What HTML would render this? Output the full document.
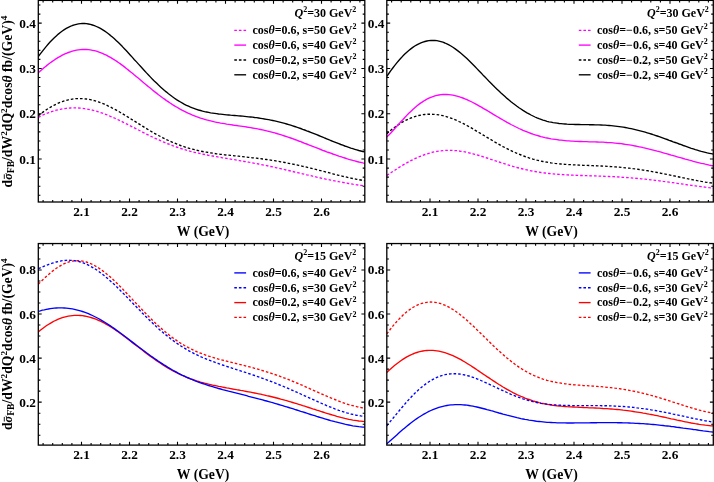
<!DOCTYPE html>
<html><head><meta charset="utf-8"><title>plot</title>
<style>
html,body{margin:0;padding:0;background:#fff;}
body{width:714px;height:482px;overflow:hidden;}
svg{display:block;will-change:transform;}
text{font-family:"Liberation Serif",serif;font-weight:bold;fill:#000;}
.i{font-style:italic;}
</style></head><body>
<svg width="714" height="482" viewBox="0 0 714 482">
<rect width="714" height="482" fill="#fff"/>

<g id="panel1">
<clipPath id="cp1"><rect x="38.3" y="0.4" width="326.5" height="201.6"/></clipPath>
<g clip-path="url(#cp1)" fill="none" stroke-width="1.35" stroke-linejoin="round">
<path d="M38.3,56.5 L40.3,53.9 L42.3,51.3 L44.3,48.8 L46.3,46.4 L48.3,44.0 L50.3,41.8 L52.3,39.7 L54.3,37.7 L56.3,35.9 L58.3,34.1 L60.3,32.5 L62.3,31.0 L64.3,29.6 L66.3,28.4 L68.3,27.3 L70.3,26.4 L72.4,25.5 L74.4,24.9 L76.4,24.3 L78.4,23.9 L80.4,23.6 L82.4,23.5 L84.4,23.5 L86.4,23.7 L88.4,24.0 L90.4,24.4 L92.4,25.0 L94.4,25.6 L96.4,26.5 L98.4,27.4 L100.4,28.4 L102.4,29.6 L104.4,30.9 L106.4,32.3 L108.4,33.8 L110.4,35.4 L112.4,37.1 L114.4,38.8 L116.4,40.7 L118.4,42.6 L120.4,44.6 L122.4,46.6 L124.4,48.7 L126.4,50.8 L128.4,53.0 L130.4,55.2 L132.4,57.4 L134.4,59.7 L136.5,61.9 L138.5,64.1 L140.5,66.3 L142.5,68.5 L144.5,70.7 L146.5,72.9 L148.5,75.0 L150.5,77.1 L152.5,79.2 L154.5,81.2 L156.5,83.1 L158.5,85.1 L160.5,86.9 L162.5,88.7 L164.5,90.5 L166.5,92.1 L168.5,93.8 L170.5,95.3 L172.5,96.8 L174.5,98.2 L176.5,99.6 L178.5,100.8 L180.5,102.0 L182.5,103.2 L184.5,104.3 L186.5,105.3 L188.5,106.2 L190.5,107.1 L192.5,107.9 L194.5,108.6 L196.5,109.3 L198.5,110.0 L200.5,110.5 L202.6,111.1 L204.6,111.6 L206.6,112.0 L208.6,112.4 L210.6,112.8 L212.6,113.1 L214.6,113.4 L216.6,113.7 L218.6,114.0 L220.6,114.2 L222.6,114.4 L224.6,114.6 L226.6,114.8 L228.6,115.0 L230.6,115.2 L232.6,115.3 L234.6,115.5 L236.6,115.7 L238.6,115.9 L240.6,116.0 L242.6,116.2 L244.6,116.4 L246.6,116.6 L248.6,116.8 L250.6,117.0 L252.6,117.2 L254.6,117.5 L256.6,117.7 L258.6,118.0 L260.6,118.3 L262.6,118.6 L264.6,119.0 L266.6,119.3 L268.7,119.7 L270.7,120.1 L272.7,120.5 L274.7,120.9 L276.7,121.4 L278.7,121.9 L280.7,122.4 L282.7,122.9 L284.7,123.4 L286.7,124.0 L288.7,124.6 L290.7,125.2 L292.7,125.8 L294.7,126.5 L296.7,127.2 L298.7,127.8 L300.7,128.5 L302.7,129.3 L304.7,130.0 L306.7,130.8 L308.7,131.5 L310.7,132.3 L312.7,133.1 L314.7,133.9 L316.7,134.7 L318.7,135.5 L320.7,136.3 L322.7,137.1 L324.7,138.0 L326.7,138.8 L328.7,139.6 L330.7,140.5 L332.8,141.3 L334.8,142.1 L336.8,142.9 L338.8,143.7 L340.8,144.5 L342.8,145.2 L344.8,146.0 L346.8,146.7 L348.8,147.4 L350.8,148.1 L352.8,148.7 L354.8,149.3 L356.8,149.9 L358.8,150.5 L360.8,151.0 L362.8,151.5 L364.8,151.9" stroke="#000000"/>
<path d="M38.3,115.7 L40.3,114.1 L42.3,112.6 L44.3,111.2 L46.3,109.8 L48.3,108.5 L50.3,107.3 L52.3,106.2 L54.3,105.1 L56.3,104.1 L58.3,103.2 L60.3,102.3 L62.3,101.6 L64.3,100.9 L66.3,100.3 L68.3,99.8 L70.3,99.4 L72.4,99.1 L74.4,98.8 L76.4,98.6 L78.4,98.6 L80.4,98.6 L82.4,98.6 L84.4,98.8 L86.4,99.0 L88.4,99.3 L90.4,99.7 L92.4,100.2 L94.4,100.7 L96.4,101.3 L98.4,101.9 L100.4,102.7 L102.4,103.4 L104.4,104.2 L106.4,105.1 L108.4,106.1 L110.4,107.0 L112.4,108.1 L114.4,109.1 L116.4,110.2 L118.4,111.3 L120.4,112.5 L122.4,113.7 L124.4,114.9 L126.4,116.1 L128.4,117.3 L130.4,118.6 L132.4,119.8 L134.4,121.1 L136.5,122.4 L138.5,123.6 L140.5,124.9 L142.5,126.1 L144.5,127.4 L146.5,128.6 L148.5,129.8 L150.5,131.0 L152.5,132.1 L154.5,133.3 L156.5,134.4 L158.5,135.5 L160.5,136.5 L162.5,137.6 L164.5,138.6 L166.5,139.6 L168.5,140.5 L170.5,141.4 L172.5,142.3 L174.5,143.1 L176.5,143.9 L178.5,144.7 L180.5,145.5 L182.5,146.2 L184.5,146.8 L186.5,147.5 L188.5,148.1 L190.5,148.7 L192.5,149.2 L194.5,149.7 L196.5,150.2 L198.5,150.7 L200.5,151.1 L202.6,151.5 L204.6,151.9 L206.6,152.2 L208.6,152.6 L210.6,152.9 L212.6,153.2 L214.6,153.5 L216.6,153.8 L218.6,154.0 L220.6,154.3 L222.6,154.5 L224.6,154.8 L226.6,155.0 L228.6,155.2 L230.6,155.4 L232.6,155.6 L234.6,155.8 L236.6,156.0 L238.6,156.2 L240.6,156.5 L242.6,156.7 L244.6,156.9 L246.6,157.1 L248.6,157.3 L250.6,157.5 L252.6,157.8 L254.6,158.0 L256.6,158.2 L258.6,158.5 L260.6,158.7 L262.6,159.0 L264.6,159.3 L266.6,159.5 L268.7,159.8 L270.7,160.1 L272.7,160.4 L274.7,160.7 L276.7,161.1 L278.7,161.4 L280.7,161.8 L282.7,162.1 L284.7,162.5 L286.7,162.9 L288.7,163.3 L290.7,163.7 L292.7,164.1 L294.7,164.5 L296.7,164.9 L298.7,165.4 L300.7,165.8 L302.7,166.3 L304.7,166.7 L306.7,167.2 L308.7,167.7 L310.7,168.2 L312.7,168.7 L314.7,169.2 L316.7,169.7 L318.7,170.2 L320.7,170.7 L322.7,171.2 L324.7,171.7 L326.7,172.2 L328.7,172.7 L330.7,173.3 L332.8,173.8 L334.8,174.3 L336.8,174.8 L338.8,175.3 L340.8,175.8 L342.8,176.3 L344.8,176.7 L346.8,177.2 L348.8,177.7 L350.8,178.1 L352.8,178.5 L354.8,178.9 L356.8,179.3 L358.8,179.7 L360.8,180.0 L362.8,180.4 L364.8,180.7" stroke="#000000" stroke-dasharray="2.6 2.0"/>
<path d="M38.3,72.8 L40.3,71.0 L42.3,69.3 L44.3,67.6 L46.3,65.9 L48.3,64.3 L50.3,62.8 L52.3,61.4 L54.3,60.0 L56.3,58.6 L58.3,57.4 L60.3,56.3 L62.3,55.2 L64.3,54.2 L66.3,53.3 L68.3,52.5 L70.3,51.8 L72.4,51.2 L74.4,50.6 L76.4,50.2 L78.4,49.9 L80.4,49.6 L82.4,49.5 L84.4,49.5 L86.4,49.5 L88.4,49.7 L90.4,49.9 L92.4,50.3 L94.4,50.7 L96.4,51.2 L98.4,51.9 L100.4,52.6 L102.4,53.4 L104.4,54.3 L106.4,55.2 L108.4,56.3 L110.4,57.4 L112.4,58.6 L114.4,59.8 L116.4,61.1 L118.4,62.5 L120.4,63.9 L122.4,65.4 L124.4,66.9 L126.4,68.5 L128.4,70.1 L130.4,71.7 L132.4,73.3 L134.4,75.0 L136.5,76.7 L138.5,78.3 L140.5,80.0 L142.5,81.7 L144.5,83.4 L146.5,85.1 L148.5,86.7 L150.5,88.3 L152.5,90.0 L154.5,91.6 L156.5,93.1 L158.5,94.7 L160.5,96.2 L162.5,97.7 L164.5,99.1 L166.5,100.6 L168.5,101.9 L170.5,103.3 L172.5,104.6 L174.5,105.8 L176.5,107.0 L178.5,108.2 L180.5,109.3 L182.5,110.4 L184.5,111.4 L186.5,112.4 L188.5,113.4 L190.5,114.2 L192.5,115.1 L194.5,115.9 L196.5,116.7 L198.5,117.4 L200.5,118.1 L202.6,118.7 L204.6,119.3 L206.6,119.9 L208.6,120.4 L210.6,120.9 L212.6,121.4 L214.6,121.9 L216.6,122.3 L218.6,122.7 L220.6,123.1 L222.6,123.4 L224.6,123.7 L226.6,124.1 L228.6,124.4 L230.6,124.7 L232.6,125.0 L234.6,125.3 L236.6,125.5 L238.6,125.8 L240.6,126.1 L242.6,126.4 L244.6,126.7 L246.6,127.0 L248.6,127.3 L250.6,127.6 L252.6,128.0 L254.6,128.3 L256.6,128.7 L258.6,129.1 L260.6,129.5 L262.6,129.9 L264.6,130.3 L266.6,130.8 L268.7,131.3 L270.7,131.8 L272.7,132.3 L274.7,132.9 L276.7,133.5 L278.7,134.1 L280.7,134.7 L282.7,135.3 L284.7,136.0 L286.7,136.6 L288.7,137.3 L290.7,138.0 L292.7,138.7 L294.7,139.5 L296.7,140.2 L298.7,141.0 L300.7,141.7 L302.7,142.5 L304.7,143.3 L306.7,144.0 L308.7,144.8 L310.7,145.6 L312.7,146.4 L314.7,147.2 L316.7,147.9 L318.7,148.7 L320.7,149.5 L322.7,150.3 L324.7,151.0 L326.7,151.8 L328.7,152.5 L330.7,153.2 L332.8,154.0 L334.8,154.7 L336.8,155.4 L338.8,156.1 L340.8,156.7 L342.8,157.4 L344.8,158.0 L346.8,158.7 L348.8,159.3 L350.8,159.8 L352.8,160.4 L354.8,160.9 L356.8,161.5 L358.8,162.0 L360.8,162.4 L362.8,162.9 L364.8,163.3" stroke="#ff00ff"/>
<path d="M38.3,117.3 L40.3,116.3 L42.3,115.3 L44.3,114.4 L46.3,113.6 L48.3,112.8 L50.3,112.0 L52.3,111.4 L54.3,110.8 L56.3,110.2 L58.3,109.7 L60.3,109.3 L62.3,108.9 L64.3,108.6 L66.3,108.3 L68.3,108.1 L70.3,108.0 L72.4,107.9 L74.4,107.9 L76.4,107.9 L78.4,108.0 L80.4,108.1 L82.4,108.3 L84.4,108.6 L86.4,108.9 L88.4,109.3 L90.4,109.7 L92.4,110.1 L94.4,110.7 L96.4,111.2 L98.4,111.8 L100.4,112.5 L102.4,113.1 L104.4,113.9 L106.4,114.6 L108.4,115.4 L110.4,116.3 L112.4,117.1 L114.4,118.0 L116.4,118.9 L118.4,119.9 L120.4,120.8 L122.4,121.8 L124.4,122.8 L126.4,123.8 L128.4,124.8 L130.4,125.9 L132.4,126.9 L134.4,127.9 L136.5,129.0 L138.5,130.0 L140.5,131.0 L142.5,132.1 L144.5,133.1 L146.5,134.1 L148.5,135.1 L150.5,136.1 L152.5,137.0 L154.5,138.0 L156.5,138.9 L158.5,139.8 L160.5,140.7 L162.5,141.6 L164.5,142.4 L166.5,143.2 L168.5,144.0 L170.5,144.8 L172.5,145.6 L174.5,146.3 L176.5,147.0 L178.5,147.7 L180.5,148.3 L182.5,149.0 L184.5,149.6 L186.5,150.2 L188.5,150.7 L190.5,151.3 L192.5,151.8 L194.5,152.3 L196.5,152.8 L198.5,153.2 L200.5,153.7 L202.6,154.1 L204.6,154.5 L206.6,154.9 L208.6,155.3 L210.6,155.7 L212.6,156.0 L214.6,156.4 L216.6,156.7 L218.6,157.1 L220.6,157.4 L222.6,157.8 L224.6,158.1 L226.6,158.4 L228.6,158.8 L230.6,159.1 L232.6,159.4 L234.6,159.7 L236.6,160.1 L238.6,160.4 L240.6,160.8 L242.6,161.1 L244.6,161.5 L246.6,161.8 L248.6,162.2 L250.6,162.5 L252.6,162.9 L254.6,163.3 L256.6,163.6 L258.6,164.0 L260.6,164.4 L262.6,164.8 L264.6,165.2 L266.6,165.6 L268.7,166.1 L270.7,166.5 L272.7,166.9 L274.7,167.4 L276.7,167.8 L278.7,168.2 L280.7,168.7 L282.7,169.2 L284.7,169.6 L286.7,170.1 L288.7,170.5 L290.7,171.0 L292.7,171.5 L294.7,172.0 L296.7,172.4 L298.7,172.9 L300.7,173.4 L302.7,173.8 L304.7,174.3 L306.7,174.8 L308.7,175.2 L310.7,175.7 L312.7,176.2 L314.7,176.6 L316.7,177.1 L318.7,177.5 L320.7,178.0 L322.7,178.4 L324.7,178.8 L326.7,179.3 L328.7,179.7 L330.7,180.1 L332.8,180.5 L334.8,180.9 L336.8,181.3 L338.8,181.7 L340.8,182.0 L342.8,182.4 L344.8,182.8 L346.8,183.1 L348.8,183.5 L350.8,183.8 L352.8,184.2 L354.8,184.5 L356.8,184.8 L358.8,185.1 L360.8,185.4 L362.8,185.7 L364.8,186.0" stroke="#ff00ff" stroke-dasharray="2.6 2.0"/>
</g>
<path d="M43.10,202.0v-2.1M43.10,0.4v2.1M52.70,202.0v-2.1M52.70,0.4v2.1M62.30,202.0v-2.1M62.30,0.4v2.1M71.90,202.0v-2.1M71.90,0.4v2.1M81.50,202.0v-3.4M81.50,0.4v3.4M91.10,202.0v-2.1M91.10,0.4v2.1M100.70,202.0v-2.1M100.70,0.4v2.1M110.30,202.0v-2.1M110.30,0.4v2.1M119.90,202.0v-2.1M119.90,0.4v2.1M129.50,202.0v-3.4M129.50,0.4v3.4M139.10,202.0v-2.1M139.10,0.4v2.1M148.70,202.0v-2.1M148.70,0.4v2.1M158.30,202.0v-2.1M158.30,0.4v2.1M167.90,202.0v-2.1M167.90,0.4v2.1M177.50,202.0v-3.4M177.50,0.4v3.4M187.10,202.0v-2.1M187.10,0.4v2.1M196.70,202.0v-2.1M196.70,0.4v2.1M206.30,202.0v-2.1M206.30,0.4v2.1M215.90,202.0v-2.1M215.90,0.4v2.1M225.50,202.0v-3.4M225.50,0.4v3.4M235.10,202.0v-2.1M235.10,0.4v2.1M244.70,202.0v-2.1M244.70,0.4v2.1M254.30,202.0v-2.1M254.30,0.4v2.1M263.90,202.0v-2.1M263.90,0.4v2.1M273.50,202.0v-3.4M273.50,0.4v3.4M283.10,202.0v-2.1M283.10,0.4v2.1M292.70,202.0v-2.1M292.70,0.4v2.1M302.30,202.0v-2.1M302.30,0.4v2.1M311.90,202.0v-2.1M311.90,0.4v2.1M321.50,202.0v-3.4M321.50,0.4v3.4M331.10,202.0v-2.1M331.10,0.4v2.1M340.70,202.0v-2.1M340.70,0.4v2.1M350.30,202.0v-2.1M350.30,0.4v2.1M359.90,202.0v-2.1M359.90,0.4v2.1M38.3,5.03h2.1M364.8,5.03h-2.1M38.3,14.09h2.1M364.8,14.09h-2.1M38.3,23.15h3.4M364.8,23.15h-3.4M38.3,32.21h2.1M364.8,32.21h-2.1M38.3,41.27h2.1M364.8,41.27h-2.1M38.3,50.33h2.1M364.8,50.33h-2.1M38.3,59.39h2.1M364.8,59.39h-2.1M38.3,68.45h3.4M364.8,68.45h-3.4M38.3,77.51h2.1M364.8,77.51h-2.1M38.3,86.57h2.1M364.8,86.57h-2.1M38.3,95.63h2.1M364.8,95.63h-2.1M38.3,104.69h2.1M364.8,104.69h-2.1M38.3,113.75h3.4M364.8,113.75h-3.4M38.3,122.81h2.1M364.8,122.81h-2.1M38.3,131.87h2.1M364.8,131.87h-2.1M38.3,140.93h2.1M364.8,140.93h-2.1M38.3,149.99h2.1M364.8,149.99h-2.1M38.3,159.05h3.4M364.8,159.05h-3.4M38.3,168.11h2.1M364.8,168.11h-2.1M38.3,177.17h2.1M364.8,177.17h-2.1M38.3,186.23h2.1M364.8,186.23h-2.1M38.3,195.29h2.1M364.8,195.29h-2.1" stroke="#000" stroke-width="1.1" fill="none"/>
<rect x="38.3" y="0.4" width="326.5" height="201.6" fill="none" stroke="#000" stroke-width="1.3"/>
<text x="35.9" y="27.6" font-size="13.3" text-anchor="end">0.4</text>
<text x="35.9" y="72.9" font-size="13.3" text-anchor="end">0.3</text>
<text x="35.9" y="118.2" font-size="13.3" text-anchor="end">0.2</text>
<text x="35.9" y="163.5" font-size="13.3" text-anchor="end">0.1</text>
<text x="81.5" y="216.0" font-size="13.3" text-anchor="middle">2.1</text>
<text x="129.5" y="216.0" font-size="13.3" text-anchor="middle">2.2</text>
<text x="177.5" y="216.0" font-size="13.3" text-anchor="middle">2.3</text>
<text x="225.5" y="216.0" font-size="13.3" text-anchor="middle">2.4</text>
<text x="273.5" y="216.0" font-size="13.3" text-anchor="middle">2.5</text>
<text x="321.5" y="216.0" font-size="13.3" text-anchor="middle">2.6</text>
<text x="203.1" y="235.8" font-size="13.7" text-anchor="middle">W (GeV)</text>
<text x="356.3" y="16.9" font-size="12.0" text-anchor="end"><tspan class="i">Q</tspan><tspan font-size="8" dy="-4.6">2</tspan><tspan dy="4.6">=</tspan>30 GeV<tspan font-size="8" dy="-4.6">2</tspan></text>
<path d="M234.3,30.3h11.8" stroke="#ff00ff" stroke-width="1.35" stroke-dasharray="2.6 2.0" fill="none"/>
<text x="252.5" y="34.1" font-size="12.0">cos<tspan class="i">θ</tspan>=0.6, s=50 GeV<tspan font-size="8" dy="-4.6">2</tspan></text>
<path d="M234.3,45.1h11.8" stroke="#ff00ff" stroke-width="1.35" fill="none"/>
<text x="252.5" y="48.9" font-size="12.0">cos<tspan class="i">θ</tspan>=0.6, s=40 GeV<tspan font-size="8" dy="-4.6">2</tspan></text>
<path d="M234.3,60.0h11.8" stroke="#000000" stroke-width="1.35" stroke-dasharray="2.6 2.0" fill="none"/>
<text x="252.5" y="63.8" font-size="12.0">cos<tspan class="i">θ</tspan>=0.2, s=50 GeV<tspan font-size="8" dy="-4.6">2</tspan></text>
<path d="M234.3,74.8h11.8" stroke="#000000" stroke-width="1.35" fill="none"/>
<text x="252.5" y="78.6" font-size="12.0">cos<tspan class="i">θ</tspan>=0.2, s=40 GeV<tspan font-size="8" dy="-4.6">2</tspan></text>
</g>
<g id="panel2">
<clipPath id="cp2"><rect x="386.8" y="0.4" width="326.5" height="201.6"/></clipPath>
<g clip-path="url(#cp2)" fill="none" stroke-width="1.35" stroke-linejoin="round">
<path d="M386.8,76.4 L388.8,73.5 L390.8,70.7 L392.8,68.0 L394.8,65.4 L396.8,62.9 L398.8,60.5 L400.8,58.3 L402.8,56.1 L404.8,54.1 L406.8,52.2 L408.8,50.5 L410.8,48.9 L412.8,47.4 L414.8,46.0 L416.8,44.8 L418.8,43.8 L420.9,42.9 L422.9,42.1 L424.9,41.5 L426.9,41.0 L428.9,40.7 L430.9,40.5 L432.9,40.4 L434.9,40.5 L436.9,40.7 L438.9,41.1 L440.9,41.6 L442.9,42.2 L444.9,43.0 L446.9,43.9 L448.9,44.9 L450.9,46.0 L452.9,47.3 L454.9,48.6 L456.9,50.1 L458.9,51.6 L460.9,53.2 L462.9,54.9 L464.9,56.7 L466.9,58.6 L468.9,60.5 L470.9,62.5 L472.9,64.5 L474.9,66.5 L476.9,68.6 L478.9,70.7 L480.9,72.8 L482.9,74.9 L485.0,77.0 L487.0,79.1 L489.0,81.2 L491.0,83.2 L493.0,85.3 L495.0,87.3 L497.0,89.2 L499.0,91.1 L501.0,93.0 L503.0,94.8 L505.0,96.6 L507.0,98.4 L509.0,100.0 L511.0,101.7 L513.0,103.3 L515.0,104.8 L517.0,106.3 L519.0,107.7 L521.0,109.0 L523.0,110.4 L525.0,111.6 L527.0,112.8 L529.0,113.9 L531.0,115.0 L533.0,116.0 L535.0,117.0 L537.0,117.9 L539.0,118.7 L541.0,119.4 L543.0,120.1 L545.0,120.7 L547.0,121.3 L549.0,121.8 L551.1,122.2 L553.1,122.6 L555.1,122.9 L557.1,123.2 L559.1,123.5 L561.1,123.7 L563.1,123.9 L565.1,124.0 L567.1,124.2 L569.1,124.3 L571.1,124.3 L573.1,124.4 L575.1,124.5 L577.1,124.5 L579.1,124.5 L581.1,124.6 L583.1,124.6 L585.1,124.6 L587.1,124.6 L589.1,124.7 L591.1,124.7 L593.1,124.7 L595.1,124.8 L597.1,124.8 L599.1,124.9 L601.1,125.0 L603.1,125.1 L605.1,125.2 L607.1,125.3 L609.1,125.5 L611.1,125.7 L613.1,125.9 L615.1,126.1 L617.2,126.3 L619.2,126.6 L621.2,126.9 L623.2,127.2 L625.2,127.5 L627.2,127.9 L629.2,128.3 L631.2,128.7 L633.2,129.1 L635.2,129.6 L637.2,130.1 L639.2,130.6 L641.2,131.1 L643.2,131.6 L645.2,132.2 L647.2,132.8 L649.2,133.4 L651.2,134.0 L653.2,134.7 L655.2,135.3 L657.2,136.0 L659.2,136.7 L661.2,137.4 L663.2,138.1 L665.2,138.8 L667.2,139.5 L669.2,140.3 L671.2,141.0 L673.2,141.8 L675.2,142.5 L677.2,143.2 L679.2,144.0 L681.3,144.7 L683.3,145.5 L685.3,146.2 L687.3,146.9 L689.3,147.6 L691.3,148.3 L693.3,148.9 L695.3,149.6 L697.3,150.2 L699.3,150.8 L701.3,151.4 L703.3,151.9 L705.3,152.4 L707.3,152.9 L709.3,153.3 L711.3,153.7 L713.3,154.1" stroke="#000000"/>
<path d="M386.8,133.8 L388.8,132.0 L390.8,130.3 L392.8,128.7 L394.8,127.2 L396.8,125.8 L398.8,124.4 L400.8,123.1 L402.8,121.9 L404.8,120.8 L406.8,119.8 L408.8,118.9 L410.8,118.0 L412.8,117.2 L414.8,116.6 L416.8,116.0 L418.8,115.5 L420.9,115.1 L422.9,114.7 L424.9,114.5 L426.9,114.3 L428.9,114.2 L430.9,114.2 L432.9,114.3 L434.9,114.4 L436.9,114.6 L438.9,114.9 L440.9,115.3 L442.9,115.7 L444.9,116.2 L446.9,116.8 L448.9,117.4 L450.9,118.1 L452.9,118.9 L454.9,119.7 L456.9,120.5 L458.9,121.5 L460.9,122.4 L462.9,123.4 L464.9,124.4 L466.9,125.5 L468.9,126.6 L470.9,127.7 L472.9,128.9 L474.9,130.1 L476.9,131.3 L478.9,132.5 L480.9,133.7 L482.9,134.9 L485.0,136.1 L487.0,137.3 L489.0,138.5 L491.0,139.7 L493.0,140.9 L495.0,142.1 L497.0,143.2 L499.0,144.3 L501.0,145.5 L503.0,146.6 L505.0,147.6 L507.0,148.6 L509.0,149.7 L511.0,150.6 L513.0,151.6 L515.0,152.5 L517.0,153.4 L519.0,154.2 L521.0,155.0 L523.0,155.8 L525.0,156.5 L527.0,157.2 L529.0,157.9 L531.0,158.5 L533.0,159.1 L535.0,159.6 L537.0,160.2 L539.0,160.6 L541.0,161.1 L543.0,161.5 L545.0,161.9 L547.0,162.2 L549.0,162.6 L551.1,162.9 L553.1,163.1 L555.1,163.4 L557.1,163.6 L559.1,163.8 L561.1,164.0 L563.1,164.2 L565.1,164.3 L567.1,164.5 L569.1,164.6 L571.1,164.7 L573.1,164.8 L575.1,164.9 L577.1,165.0 L579.1,165.1 L581.1,165.2 L583.1,165.3 L585.1,165.3 L587.1,165.4 L589.1,165.5 L591.1,165.6 L593.1,165.7 L595.1,165.7 L597.1,165.8 L599.1,165.9 L601.1,166.0 L603.1,166.1 L605.1,166.2 L607.1,166.3 L609.1,166.5 L611.1,166.6 L613.1,166.7 L615.1,166.9 L617.2,167.0 L619.2,167.2 L621.2,167.4 L623.2,167.6 L625.2,167.8 L627.2,168.0 L629.2,168.2 L631.2,168.4 L633.2,168.7 L635.2,168.9 L637.2,169.2 L639.2,169.5 L641.2,169.8 L643.2,170.1 L645.2,170.4 L647.2,170.7 L649.2,171.1 L651.2,171.4 L653.2,171.8 L655.2,172.1 L657.2,172.5 L659.2,172.9 L661.2,173.3 L663.2,173.7 L665.2,174.1 L667.2,174.5 L669.2,174.9 L671.2,175.3 L673.2,175.7 L675.2,176.1 L677.2,176.6 L679.2,177.0 L681.3,177.4 L683.3,177.8 L685.3,178.2 L687.3,178.7 L689.3,179.1 L691.3,179.5 L693.3,179.9 L695.3,180.3 L697.3,180.7 L699.3,181.0 L701.3,181.4 L703.3,181.7 L705.3,182.1 L707.3,182.4 L709.3,182.7 L711.3,182.9 L713.3,183.2" stroke="#000000" stroke-dasharray="2.6 2.0"/>
<path d="M386.8,137.1 L388.8,135.1 L390.8,133.0 L392.8,130.8 L394.8,128.5 L396.8,126.3 L398.8,124.1 L400.8,121.8 L402.8,119.7 L404.8,117.5 L406.8,115.4 L408.8,113.3 L410.8,111.4 L412.8,109.5 L414.8,107.7 L416.8,106.0 L418.8,104.4 L420.9,102.9 L422.9,101.6 L424.9,100.3 L426.9,99.2 L428.9,98.2 L430.9,97.3 L432.9,96.6 L434.9,95.9 L436.9,95.4 L438.9,95.0 L440.9,94.7 L442.9,94.5 L444.9,94.5 L446.9,94.5 L448.9,94.6 L450.9,94.9 L452.9,95.2 L454.9,95.6 L456.9,96.1 L458.9,96.7 L460.9,97.3 L462.9,98.0 L464.9,98.8 L466.9,99.7 L468.9,100.6 L470.9,101.5 L472.9,102.5 L474.9,103.6 L476.9,104.7 L478.9,105.8 L480.9,106.9 L482.9,108.1 L485.0,109.3 L487.0,110.4 L489.0,111.7 L491.0,112.9 L493.0,114.1 L495.0,115.3 L497.0,116.5 L499.0,117.7 L501.0,118.8 L503.0,120.0 L505.0,121.2 L507.0,122.3 L509.0,123.4 L511.0,124.5 L513.0,125.5 L515.0,126.5 L517.0,127.5 L519.0,128.5 L521.0,129.4 L523.0,130.3 L525.0,131.1 L527.0,131.9 L529.0,132.7 L531.0,133.5 L533.0,134.2 L535.0,134.8 L537.0,135.4 L539.0,136.0 L541.0,136.6 L543.0,137.1 L545.0,137.6 L547.0,138.0 L549.0,138.4 L551.1,138.8 L553.1,139.1 L555.1,139.4 L557.1,139.7 L559.1,140.0 L561.1,140.2 L563.1,140.4 L565.1,140.6 L567.1,140.8 L569.1,140.9 L571.1,141.1 L573.1,141.2 L575.1,141.3 L577.1,141.4 L579.1,141.5 L581.1,141.5 L583.1,141.6 L585.1,141.6 L587.1,141.7 L589.1,141.8 L591.1,141.8 L593.1,141.9 L595.1,141.9 L597.1,142.0 L599.1,142.1 L601.1,142.1 L603.1,142.2 L605.1,142.3 L607.1,142.5 L609.1,142.6 L611.1,142.7 L613.1,142.9 L615.1,143.1 L617.2,143.3 L619.2,143.5 L621.2,143.7 L623.2,144.0 L625.2,144.3 L627.2,144.6 L629.2,144.9 L631.2,145.2 L633.2,145.6 L635.2,146.0 L637.2,146.4 L639.2,146.8 L641.2,147.2 L643.2,147.7 L645.2,148.1 L647.2,148.6 L649.2,149.1 L651.2,149.6 L653.2,150.1 L655.2,150.6 L657.2,151.2 L659.2,151.7 L661.2,152.2 L663.2,152.8 L665.2,153.4 L667.2,153.9 L669.2,154.5 L671.2,155.1 L673.2,155.6 L675.2,156.2 L677.2,156.8 L679.2,157.4 L681.3,157.9 L683.3,158.5 L685.3,159.1 L687.3,159.6 L689.3,160.2 L691.3,160.7 L693.3,161.3 L695.3,161.8 L697.3,162.3 L699.3,162.8 L701.3,163.3 L703.3,163.7 L705.3,164.2 L707.3,164.6 L709.3,165.1 L711.3,165.5 L713.3,165.8" stroke="#ff00ff"/>
<path d="M386.8,175.4 L388.8,174.1 L390.8,172.8 L392.8,171.5 L394.8,170.2 L396.8,168.9 L398.8,167.6 L400.8,166.4 L402.8,165.2 L404.8,164.0 L406.8,162.9 L408.8,161.8 L410.8,160.7 L412.8,159.7 L414.8,158.7 L416.8,157.8 L418.8,156.9 L420.9,156.1 L422.9,155.3 L424.9,154.5 L426.9,153.9 L428.9,153.3 L430.9,152.7 L432.9,152.2 L434.9,151.8 L436.9,151.4 L438.9,151.1 L440.9,150.8 L442.9,150.6 L444.9,150.4 L446.9,150.4 L448.9,150.3 L450.9,150.3 L452.9,150.4 L454.9,150.6 L456.9,150.7 L458.9,151.0 L460.9,151.3 L462.9,151.6 L464.9,151.9 L466.9,152.4 L468.9,152.8 L470.9,153.3 L472.9,153.8 L474.9,154.3 L476.9,154.9 L478.9,155.5 L480.9,156.1 L482.9,156.7 L485.0,157.4 L487.0,158.0 L489.0,158.7 L491.0,159.4 L493.0,160.0 L495.0,160.7 L497.0,161.3 L499.0,162.0 L501.0,162.7 L503.0,163.3 L505.0,163.9 L507.0,164.6 L509.0,165.2 L511.0,165.8 L513.0,166.4 L515.0,166.9 L517.0,167.5 L519.0,168.0 L521.0,168.5 L523.0,169.0 L525.0,169.5 L527.0,169.9 L529.0,170.4 L531.0,170.8 L533.0,171.1 L535.0,171.5 L537.0,171.9 L539.0,172.2 L541.0,172.5 L543.0,172.8 L545.0,173.0 L547.0,173.3 L549.0,173.5 L551.1,173.7 L553.1,173.9 L555.1,174.1 L557.1,174.2 L559.1,174.4 L561.1,174.5 L563.1,174.6 L565.1,174.8 L567.1,174.9 L569.1,175.0 L571.1,175.1 L573.1,175.2 L575.1,175.2 L577.1,175.3 L579.1,175.4 L581.1,175.5 L583.1,175.5 L585.1,175.6 L587.1,175.7 L589.1,175.7 L591.1,175.8 L593.1,175.9 L595.1,175.9 L597.1,176.0 L599.1,176.1 L601.1,176.2 L603.1,176.2 L605.1,176.3 L607.1,176.4 L609.1,176.5 L611.1,176.6 L613.1,176.7 L615.1,176.8 L617.2,176.9 L619.2,177.0 L621.2,177.2 L623.2,177.3 L625.2,177.4 L627.2,177.6 L629.2,177.7 L631.2,177.9 L633.2,178.1 L635.2,178.2 L637.2,178.4 L639.2,178.6 L641.2,178.8 L643.2,179.0 L645.2,179.2 L647.2,179.4 L649.2,179.6 L651.2,179.9 L653.2,180.1 L655.2,180.4 L657.2,180.6 L659.2,180.8 L661.2,181.1 L663.2,181.4 L665.2,181.6 L667.2,181.9 L669.2,182.2 L671.2,182.5 L673.2,182.7 L675.2,183.0 L677.2,183.3 L679.2,183.6 L681.3,183.9 L683.3,184.2 L685.3,184.5 L687.3,184.8 L689.3,185.0 L691.3,185.3 L693.3,185.6 L695.3,185.9 L697.3,186.2 L699.3,186.4 L701.3,186.7 L703.3,187.0 L705.3,187.2 L707.3,187.4 L709.3,187.7 L711.3,187.9 L713.3,188.1" stroke="#ff00ff" stroke-dasharray="2.6 2.0"/>
</g>
<path d="M391.60,202.0v-2.1M391.60,0.4v2.1M401.20,202.0v-2.1M401.20,0.4v2.1M410.80,202.0v-2.1M410.80,0.4v2.1M420.40,202.0v-2.1M420.40,0.4v2.1M430.00,202.0v-3.4M430.00,0.4v3.4M439.60,202.0v-2.1M439.60,0.4v2.1M449.20,202.0v-2.1M449.20,0.4v2.1M458.80,202.0v-2.1M458.80,0.4v2.1M468.40,202.0v-2.1M468.40,0.4v2.1M478.00,202.0v-3.4M478.00,0.4v3.4M487.60,202.0v-2.1M487.60,0.4v2.1M497.20,202.0v-2.1M497.20,0.4v2.1M506.80,202.0v-2.1M506.80,0.4v2.1M516.40,202.0v-2.1M516.40,0.4v2.1M526.00,202.0v-3.4M526.00,0.4v3.4M535.60,202.0v-2.1M535.60,0.4v2.1M545.20,202.0v-2.1M545.20,0.4v2.1M554.80,202.0v-2.1M554.80,0.4v2.1M564.40,202.0v-2.1M564.40,0.4v2.1M574.00,202.0v-3.4M574.00,0.4v3.4M583.60,202.0v-2.1M583.60,0.4v2.1M593.20,202.0v-2.1M593.20,0.4v2.1M602.80,202.0v-2.1M602.80,0.4v2.1M612.40,202.0v-2.1M612.40,0.4v2.1M622.00,202.0v-3.4M622.00,0.4v3.4M631.60,202.0v-2.1M631.60,0.4v2.1M641.20,202.0v-2.1M641.20,0.4v2.1M650.80,202.0v-2.1M650.80,0.4v2.1M660.40,202.0v-2.1M660.40,0.4v2.1M670.00,202.0v-3.4M670.00,0.4v3.4M679.60,202.0v-2.1M679.60,0.4v2.1M689.20,202.0v-2.1M689.20,0.4v2.1M698.80,202.0v-2.1M698.80,0.4v2.1M708.40,202.0v-2.1M708.40,0.4v2.1M386.8,5.03h2.1M713.3,5.03h-2.1M386.8,14.09h2.1M713.3,14.09h-2.1M386.8,23.15h3.4M713.3,23.15h-3.4M386.8,32.21h2.1M713.3,32.21h-2.1M386.8,41.27h2.1M713.3,41.27h-2.1M386.8,50.33h2.1M713.3,50.33h-2.1M386.8,59.39h2.1M713.3,59.39h-2.1M386.8,68.45h3.4M713.3,68.45h-3.4M386.8,77.51h2.1M713.3,77.51h-2.1M386.8,86.57h2.1M713.3,86.57h-2.1M386.8,95.63h2.1M713.3,95.63h-2.1M386.8,104.69h2.1M713.3,104.69h-2.1M386.8,113.75h3.4M713.3,113.75h-3.4M386.8,122.81h2.1M713.3,122.81h-2.1M386.8,131.87h2.1M713.3,131.87h-2.1M386.8,140.93h2.1M713.3,140.93h-2.1M386.8,149.99h2.1M713.3,149.99h-2.1M386.8,159.05h3.4M713.3,159.05h-3.4M386.8,168.11h2.1M713.3,168.11h-2.1M386.8,177.17h2.1M713.3,177.17h-2.1M386.8,186.23h2.1M713.3,186.23h-2.1M386.8,195.29h2.1M713.3,195.29h-2.1" stroke="#000" stroke-width="1.1" fill="none"/>
<rect x="386.8" y="0.4" width="326.5" height="201.6" fill="none" stroke="#000" stroke-width="1.3"/>
<text x="384.4" y="27.6" font-size="13.3" text-anchor="end">0.4</text>
<text x="384.4" y="72.9" font-size="13.3" text-anchor="end">0.3</text>
<text x="384.4" y="118.2" font-size="13.3" text-anchor="end">0.2</text>
<text x="384.4" y="163.5" font-size="13.3" text-anchor="end">0.1</text>
<text x="430.0" y="216.0" font-size="13.3" text-anchor="middle">2.1</text>
<text x="478.0" y="216.0" font-size="13.3" text-anchor="middle">2.2</text>
<text x="526.0" y="216.0" font-size="13.3" text-anchor="middle">2.3</text>
<text x="574.0" y="216.0" font-size="13.3" text-anchor="middle">2.4</text>
<text x="622.0" y="216.0" font-size="13.3" text-anchor="middle">2.5</text>
<text x="670.0" y="216.0" font-size="13.3" text-anchor="middle">2.6</text>
<text x="551.5" y="235.8" font-size="13.7" text-anchor="middle">W (GeV)</text>
<text x="708.8" y="16.9" font-size="12.0" text-anchor="end"><tspan class="i">Q</tspan><tspan font-size="8" dy="-4.6">2</tspan><tspan dy="4.6">=</tspan>30 GeV<tspan font-size="8" dy="-4.6">2</tspan></text>
<path d="M578.8,30.3h11.8" stroke="#ff00ff" stroke-width="1.35" stroke-dasharray="2.6 2.0" fill="none"/>
<text x="597.0" y="34.1" font-size="12.0">cos<tspan class="i">θ</tspan>=−0.6, s=50 GeV<tspan font-size="8" dy="-4.6">2</tspan></text>
<path d="M578.8,45.1h11.8" stroke="#ff00ff" stroke-width="1.35" fill="none"/>
<text x="597.0" y="48.9" font-size="12.0">cos<tspan class="i">θ</tspan>=−0.6, s=40 GeV<tspan font-size="8" dy="-4.6">2</tspan></text>
<path d="M578.8,60.0h11.8" stroke="#000000" stroke-width="1.35" stroke-dasharray="2.6 2.0" fill="none"/>
<text x="597.0" y="63.8" font-size="12.0">cos<tspan class="i">θ</tspan>=−0.2, s=50 GeV<tspan font-size="8" dy="-4.6">2</tspan></text>
<path d="M578.8,74.8h11.8" stroke="#000000" stroke-width="1.35" fill="none"/>
<text x="597.0" y="78.6" font-size="12.0">cos<tspan class="i">θ</tspan>=−0.2, s=40 GeV<tspan font-size="8" dy="-4.6">2</tspan></text>
</g>
<g id="panel3">
<clipPath id="cp3"><rect x="38.3" y="243.55" width="326.5" height="201.55"/></clipPath>
<g clip-path="url(#cp3)" fill="none" stroke-width="1.35" stroke-linejoin="round">
<path d="M38.3,284.2 L40.3,282.2 L42.3,280.3 L44.3,278.4 L46.3,276.5 L48.3,274.7 L50.3,273.0 L52.3,271.3 L54.3,269.8 L56.3,268.3 L58.3,267.0 L60.3,265.8 L62.3,264.7 L64.3,263.7 L66.3,262.8 L68.3,262.1 L70.3,261.5 L72.4,261.1 L74.4,260.8 L76.4,260.7 L78.4,260.7 L80.4,260.8 L82.4,261.1 L84.4,261.5 L86.4,262.0 L88.4,262.7 L90.4,263.5 L92.4,264.4 L94.4,265.5 L96.4,266.6 L98.4,267.8 L100.4,269.2 L102.4,270.6 L104.4,272.1 L106.4,273.7 L108.4,275.4 L110.4,277.1 L112.4,279.0 L114.4,280.8 L116.4,282.7 L118.4,284.7 L120.4,286.7 L122.4,288.8 L124.4,290.9 L126.4,293.0 L128.4,295.1 L130.4,297.2 L132.4,299.4 L134.4,301.5 L136.5,303.7 L138.5,305.8 L140.5,307.9 L142.5,310.1 L144.5,312.1 L146.5,314.2 L148.5,316.3 L150.5,318.3 L152.5,320.2 L154.5,322.2 L156.5,324.1 L158.5,325.9 L160.5,327.7 L162.5,329.5 L164.5,331.2 L166.5,332.9 L168.5,334.5 L170.5,336.1 L172.5,337.6 L174.5,339.0 L176.5,340.4 L178.5,341.8 L180.5,343.1 L182.5,344.3 L184.5,345.5 L186.5,346.6 L188.5,347.7 L190.5,348.7 L192.5,349.7 L194.5,350.7 L196.5,351.5 L198.5,352.4 L200.5,353.2 L202.6,354.0 L204.6,354.7 L206.6,355.4 L208.6,356.1 L210.6,356.7 L212.6,357.3 L214.6,357.9 L216.6,358.5 L218.6,359.1 L220.6,359.6 L222.6,360.1 L224.6,360.7 L226.6,361.2 L228.6,361.7 L230.6,362.2 L232.6,362.7 L234.6,363.2 L236.6,363.7 L238.6,364.2 L240.6,364.6 L242.6,365.1 L244.6,365.6 L246.6,366.2 L248.6,366.7 L250.6,367.2 L252.6,367.7 L254.6,368.3 L256.6,368.8 L258.6,369.4 L260.6,370.0 L262.6,370.6 L264.6,371.2 L266.6,371.8 L268.7,372.5 L270.7,373.1 L272.7,373.8 L274.7,374.5 L276.7,375.2 L278.7,375.9 L280.7,376.6 L282.7,377.4 L284.7,378.1 L286.7,378.9 L288.7,379.7 L290.7,380.5 L292.7,381.3 L294.7,382.1 L296.7,383.0 L298.7,383.8 L300.7,384.7 L302.7,385.5 L304.7,386.4 L306.7,387.3 L308.7,388.2 L310.7,389.1 L312.7,390.0 L314.7,390.9 L316.7,391.8 L318.7,392.7 L320.7,393.5 L322.7,394.4 L324.7,395.3 L326.7,396.2 L328.7,397.0 L330.7,397.9 L332.8,398.7 L334.8,399.5 L336.8,400.3 L338.8,401.1 L340.8,401.9 L342.8,402.6 L344.8,403.3 L346.8,404.0 L348.8,404.6 L350.8,405.2 L352.8,405.7 L354.8,406.2 L356.8,406.7 L358.8,407.1 L360.8,407.5 L362.8,407.8 L364.8,408.0" stroke="#ff0000" stroke-dasharray="2.6 2.0"/>
<path d="M38.3,332.0 L40.3,330.3 L42.3,328.7 L44.3,327.2 L46.3,325.8 L48.3,324.5 L50.3,323.3 L52.3,322.1 L54.3,321.0 L56.3,320.1 L58.3,319.2 L60.3,318.4 L62.3,317.7 L64.3,317.1 L66.3,316.6 L68.3,316.1 L70.3,315.8 L72.4,315.6 L74.4,315.4 L76.4,315.3 L78.4,315.4 L80.4,315.5 L82.4,315.7 L84.4,316.0 L86.4,316.3 L88.4,316.8 L90.4,317.3 L92.4,318.0 L94.4,318.7 L96.4,319.4 L98.4,320.3 L100.4,321.2 L102.4,322.2 L104.4,323.2 L106.4,324.3 L108.4,325.5 L110.4,326.7 L112.4,327.9 L114.4,329.3 L116.4,330.6 L118.4,332.0 L120.4,333.5 L122.4,334.9 L124.4,336.4 L126.4,337.9 L128.4,339.5 L130.4,341.0 L132.4,342.6 L134.4,344.1 L136.5,345.7 L138.5,347.2 L140.5,348.8 L142.5,350.3 L144.5,351.9 L146.5,353.4 L148.5,354.9 L150.5,356.4 L152.5,357.8 L154.5,359.2 L156.5,360.6 L158.5,362.0 L160.5,363.3 L162.5,364.6 L164.5,365.9 L166.5,367.1 L168.5,368.3 L170.5,369.5 L172.5,370.6 L174.5,371.6 L176.5,372.7 L178.5,373.7 L180.5,374.6 L182.5,375.5 L184.5,376.4 L186.5,377.3 L188.5,378.0 L190.5,378.8 L192.5,379.5 L194.5,380.2 L196.5,380.9 L198.5,381.5 L200.5,382.1 L202.6,382.6 L204.6,383.2 L206.6,383.7 L208.6,384.2 L210.6,384.6 L212.6,385.1 L214.6,385.5 L216.6,385.9 L218.6,386.4 L220.6,386.7 L222.6,387.1 L224.6,387.5 L226.6,387.9 L228.6,388.2 L230.6,388.6 L232.6,389.0 L234.6,389.3 L236.6,389.7 L238.6,390.0 L240.6,390.4 L242.6,390.7 L244.6,391.1 L246.6,391.5 L248.6,391.8 L250.6,392.2 L252.6,392.6 L254.6,393.0 L256.6,393.4 L258.6,393.8 L260.6,394.2 L262.6,394.7 L264.6,395.1 L266.6,395.6 L268.7,396.0 L270.7,396.5 L272.7,397.0 L274.7,397.5 L276.7,398.0 L278.7,398.5 L280.7,399.1 L282.7,399.6 L284.7,400.2 L286.7,400.7 L288.7,401.3 L290.7,401.9 L292.7,402.5 L294.7,403.1 L296.7,403.7 L298.7,404.3 L300.7,404.9 L302.7,405.6 L304.7,406.2 L306.7,406.8 L308.7,407.5 L310.7,408.1 L312.7,408.8 L314.7,409.4 L316.7,410.1 L318.7,410.7 L320.7,411.4 L322.7,412.0 L324.7,412.7 L326.7,413.3 L328.7,413.9 L330.7,414.5 L332.8,415.1 L334.8,415.7 L336.8,416.3 L338.8,416.8 L340.8,417.4 L342.8,417.9 L344.8,418.4 L346.8,418.8 L348.8,419.3 L350.8,419.7 L352.8,420.1 L354.8,420.4 L356.8,420.7 L358.8,421.0 L360.8,421.2 L362.8,421.4 L364.8,421.6" stroke="#ff0000"/>
<path d="M38.3,268.6 L40.3,267.8 L42.3,267.0 L44.3,266.2 L46.3,265.4 L48.3,264.6 L50.3,263.9 L52.3,263.2 L54.3,262.6 L56.3,262.0 L58.3,261.5 L60.3,261.1 L62.3,260.7 L64.3,260.5 L66.3,260.3 L68.3,260.2 L70.3,260.3 L72.4,260.4 L74.4,260.6 L76.4,261.0 L78.4,261.4 L80.4,262.0 L82.4,262.6 L84.4,263.4 L86.4,264.2 L88.4,265.2 L90.4,266.2 L92.4,267.3 L94.4,268.5 L96.4,269.8 L98.4,271.2 L100.4,272.7 L102.4,274.2 L104.4,275.8 L106.4,277.5 L108.4,279.2 L110.4,281.0 L112.4,282.8 L114.4,284.6 L116.4,286.6 L118.4,288.5 L120.4,290.5 L122.4,292.5 L124.4,294.5 L126.4,296.6 L128.4,298.7 L130.4,300.7 L132.4,302.8 L134.4,304.9 L136.5,307.0 L138.5,309.1 L140.5,311.1 L142.5,313.2 L144.5,315.2 L146.5,317.2 L148.5,319.2 L150.5,321.1 L152.5,323.0 L154.5,324.9 L156.5,326.8 L158.5,328.6 L160.5,330.4 L162.5,332.1 L164.5,333.8 L166.5,335.4 L168.5,337.0 L170.5,338.6 L172.5,340.1 L174.5,341.6 L176.5,343.0 L178.5,344.4 L180.5,345.7 L182.5,347.0 L184.5,348.2 L186.5,349.4 L188.5,350.6 L190.5,351.7 L192.5,352.7 L194.5,353.8 L196.5,354.7 L198.5,355.7 L200.5,356.6 L202.6,357.5 L204.6,358.3 L206.6,359.2 L208.6,360.0 L210.6,360.7 L212.6,361.5 L214.6,362.2 L216.6,362.9 L218.6,363.6 L220.6,364.3 L222.6,365.0 L224.6,365.7 L226.6,366.3 L228.6,367.0 L230.6,367.6 L232.6,368.3 L234.6,368.9 L236.6,369.6 L238.6,370.2 L240.6,370.9 L242.6,371.5 L244.6,372.2 L246.6,372.8 L248.6,373.5 L250.6,374.1 L252.6,374.8 L254.6,375.5 L256.6,376.2 L258.6,376.9 L260.6,377.6 L262.6,378.3 L264.6,379.1 L266.6,379.8 L268.7,380.6 L270.7,381.3 L272.7,382.1 L274.7,382.9 L276.7,383.7 L278.7,384.5 L280.7,385.3 L282.7,386.1 L284.7,387.0 L286.7,387.8 L288.7,388.7 L290.7,389.6 L292.7,390.4 L294.7,391.3 L296.7,392.2 L298.7,393.1 L300.7,394.0 L302.7,394.9 L304.7,395.8 L306.7,396.7 L308.7,397.6 L310.7,398.5 L312.7,399.4 L314.7,400.3 L316.7,401.2 L318.7,402.1 L320.7,403.0 L322.7,403.9 L324.7,404.7 L326.7,405.6 L328.7,406.4 L330.7,407.2 L332.8,408.0 L334.8,408.8 L336.8,409.5 L338.8,410.3 L340.8,411.0 L342.8,411.6 L344.8,412.3 L346.8,412.9 L348.8,413.4 L350.8,414.0 L352.8,414.4 L354.8,414.9 L356.8,415.3 L358.8,415.6 L360.8,415.9 L362.8,416.1 L364.8,416.3" stroke="#0000ff" stroke-dasharray="2.6 2.0"/>
<path d="M38.3,311.3 L40.3,310.8 L42.3,310.2 L44.3,309.8 L46.3,309.3 L48.3,309.0 L50.3,308.6 L52.3,308.4 L54.3,308.2 L56.3,308.0 L58.3,307.9 L60.3,307.9 L62.3,307.9 L64.3,308.0 L66.3,308.1 L68.3,308.3 L70.3,308.6 L72.4,308.9 L74.4,309.3 L76.4,309.8 L78.4,310.3 L80.4,310.9 L82.4,311.5 L84.4,312.2 L86.4,312.9 L88.4,313.7 L90.4,314.6 L92.4,315.5 L94.4,316.5 L96.4,317.5 L98.4,318.5 L100.4,319.7 L102.4,320.8 L104.4,322.0 L106.4,323.3 L108.4,324.6 L110.4,325.9 L112.4,327.2 L114.4,328.6 L116.4,330.1 L118.4,331.5 L120.4,333.0 L122.4,334.5 L124.4,336.0 L126.4,337.5 L128.4,339.0 L130.4,340.6 L132.4,342.1 L134.4,343.6 L136.5,345.2 L138.5,346.7 L140.5,348.2 L142.5,349.8 L144.5,351.3 L146.5,352.8 L148.5,354.2 L150.5,355.7 L152.5,357.1 L154.5,358.5 L156.5,359.9 L158.5,361.3 L160.5,362.6 L162.5,363.9 L164.5,365.2 L166.5,366.4 L168.5,367.7 L170.5,368.8 L172.5,370.0 L174.5,371.1 L176.5,372.2 L178.5,373.3 L180.5,374.3 L182.5,375.3 L184.5,376.2 L186.5,377.2 L188.5,378.0 L190.5,378.9 L192.5,379.7 L194.5,380.6 L196.5,381.3 L198.5,382.1 L200.5,382.8 L202.6,383.5 L204.6,384.2 L206.6,384.8 L208.6,385.5 L210.6,386.1 L212.6,386.7 L214.6,387.3 L216.6,387.9 L218.6,388.5 L220.6,389.0 L222.6,389.6 L224.6,390.1 L226.6,390.6 L228.6,391.2 L230.6,391.7 L232.6,392.2 L234.6,392.7 L236.6,393.2 L238.6,393.7 L240.6,394.2 L242.6,394.7 L244.6,395.2 L246.6,395.7 L248.6,396.3 L250.6,396.8 L252.6,397.3 L254.6,397.8 L256.6,398.3 L258.6,398.9 L260.6,399.4 L262.6,399.9 L264.6,400.5 L266.6,401.0 L268.7,401.6 L270.7,402.2 L272.7,402.7 L274.7,403.3 L276.7,403.9 L278.7,404.5 L280.7,405.1 L282.7,405.7 L284.7,406.3 L286.7,406.9 L288.7,407.5 L290.7,408.1 L292.7,408.7 L294.7,409.4 L296.7,410.0 L298.7,410.6 L300.7,411.3 L302.7,411.9 L304.7,412.5 L306.7,413.2 L308.7,413.8 L310.7,414.5 L312.7,415.1 L314.7,415.7 L316.7,416.4 L318.7,417.0 L320.7,417.6 L322.7,418.2 L324.7,418.8 L326.7,419.4 L328.7,420.0 L330.7,420.6 L332.8,421.1 L334.8,421.7 L336.8,422.2 L338.8,422.7 L340.8,423.2 L342.8,423.7 L344.8,424.2 L346.8,424.6 L348.8,425.0 L350.8,425.4 L352.8,425.8 L354.8,426.1 L356.8,426.4 L358.8,426.7 L360.8,426.9 L362.8,427.1 L364.8,427.2" stroke="#0000ff"/>
</g>
<path d="M43.10,445.1v-2.1M43.10,243.55v2.1M52.70,445.1v-2.1M52.70,243.55v2.1M62.30,445.1v-2.1M62.30,243.55v2.1M71.90,445.1v-2.1M71.90,243.55v2.1M81.50,445.1v-3.4M81.50,243.55v3.4M91.10,445.1v-2.1M91.10,243.55v2.1M100.70,445.1v-2.1M100.70,243.55v2.1M110.30,445.1v-2.1M110.30,243.55v2.1M119.90,445.1v-2.1M119.90,243.55v2.1M129.50,445.1v-3.4M129.50,243.55v3.4M139.10,445.1v-2.1M139.10,243.55v2.1M148.70,445.1v-2.1M148.70,243.55v2.1M158.30,445.1v-2.1M158.30,243.55v2.1M167.90,445.1v-2.1M167.90,243.55v2.1M177.50,445.1v-3.4M177.50,243.55v3.4M187.10,445.1v-2.1M187.10,243.55v2.1M196.70,445.1v-2.1M196.70,243.55v2.1M206.30,445.1v-2.1M206.30,243.55v2.1M215.90,445.1v-2.1M215.90,243.55v2.1M225.50,445.1v-3.4M225.50,243.55v3.4M235.10,445.1v-2.1M235.10,243.55v2.1M244.70,445.1v-2.1M244.70,243.55v2.1M254.30,445.1v-2.1M254.30,243.55v2.1M263.90,445.1v-2.1M263.90,243.55v2.1M273.50,445.1v-3.4M273.50,243.55v3.4M283.10,445.1v-2.1M283.10,243.55v2.1M292.70,445.1v-2.1M292.70,243.55v2.1M302.30,445.1v-2.1M302.30,243.55v2.1M311.90,445.1v-2.1M311.90,243.55v2.1M321.50,445.1v-3.4M321.50,243.55v3.4M331.10,445.1v-2.1M331.10,243.55v2.1M340.70,445.1v-2.1M340.70,243.55v2.1M350.30,445.1v-2.1M350.30,243.55v2.1M359.90,445.1v-2.1M359.90,243.55v2.1M38.3,247.91h2.1M364.8,247.91h-2.1M38.3,258.93h2.1M364.8,258.93h-2.1M38.3,269.95h3.4M364.8,269.95h-3.4M38.3,280.97h2.1M364.8,280.97h-2.1M38.3,291.99h2.1M364.8,291.99h-2.1M38.3,303.00h2.1M364.8,303.00h-2.1M38.3,314.02h3.4M364.8,314.02h-3.4M38.3,325.04h2.1M364.8,325.04h-2.1M38.3,336.06h2.1M364.8,336.06h-2.1M38.3,347.07h2.1M364.8,347.07h-2.1M38.3,358.09h3.4M364.8,358.09h-3.4M38.3,369.11h2.1M364.8,369.11h-2.1M38.3,380.12h2.1M364.8,380.12h-2.1M38.3,391.14h2.1M364.8,391.14h-2.1M38.3,402.16h3.4M364.8,402.16h-3.4M38.3,413.18h2.1M364.8,413.18h-2.1M38.3,424.19h2.1M364.8,424.19h-2.1M38.3,435.21h2.1M364.8,435.21h-2.1" stroke="#000" stroke-width="1.1" fill="none"/>
<rect x="38.3" y="243.55" width="326.5" height="201.55" fill="none" stroke="#000" stroke-width="1.3"/>
<text x="35.9" y="274.4" font-size="13.3" text-anchor="end">0.8</text>
<text x="35.9" y="318.5" font-size="13.3" text-anchor="end">0.6</text>
<text x="35.9" y="362.6" font-size="13.3" text-anchor="end">0.4</text>
<text x="35.9" y="406.7" font-size="13.3" text-anchor="end">0.2</text>
<text x="81.5" y="458.6" font-size="13.3" text-anchor="middle">2.1</text>
<text x="129.5" y="458.6" font-size="13.3" text-anchor="middle">2.2</text>
<text x="177.5" y="458.6" font-size="13.3" text-anchor="middle">2.3</text>
<text x="225.5" y="458.6" font-size="13.3" text-anchor="middle">2.4</text>
<text x="273.5" y="458.6" font-size="13.3" text-anchor="middle">2.5</text>
<text x="321.5" y="458.6" font-size="13.3" text-anchor="middle">2.6</text>
<text x="203.1" y="478.9" font-size="13.7" text-anchor="middle">W (GeV)</text>
<text x="356.3" y="259.5" font-size="12.0" text-anchor="end"><tspan class="i">Q</tspan><tspan font-size="8" dy="-4.6">2</tspan><tspan dy="4.6">=</tspan>15 GeV<tspan font-size="8" dy="-4.6">2</tspan></text>
<path d="M234.3,272.9h11.8" stroke="#0000ff" stroke-width="1.35" fill="none"/>
<text x="252.5" y="276.7" font-size="12.0">cos<tspan class="i">θ</tspan>=0.6, s=40 GeV<tspan font-size="8" dy="-4.6">2</tspan></text>
<path d="M234.3,287.7h11.8" stroke="#0000ff" stroke-width="1.35" stroke-dasharray="2.6 2.0" fill="none"/>
<text x="252.5" y="291.5" font-size="12.0">cos<tspan class="i">θ</tspan>=0.6, s=30 GeV<tspan font-size="8" dy="-4.6">2</tspan></text>
<path d="M234.3,302.6h11.8" stroke="#ff0000" stroke-width="1.35" fill="none"/>
<text x="252.5" y="306.4" font-size="12.0">cos<tspan class="i">θ</tspan>=0.2, s=40 GeV<tspan font-size="8" dy="-4.6">2</tspan></text>
<path d="M234.3,317.4h11.8" stroke="#ff0000" stroke-width="1.35" stroke-dasharray="2.6 2.0" fill="none"/>
<text x="252.5" y="321.2" font-size="12.0">cos<tspan class="i">θ</tspan>=0.2, s=30 GeV<tspan font-size="8" dy="-4.6">2</tspan></text>
</g>
<g id="panel4">
<clipPath id="cp4"><rect x="386.8" y="243.55" width="326.5" height="201.55"/></clipPath>
<g clip-path="url(#cp4)" fill="none" stroke-width="1.35" stroke-linejoin="round">
<path d="M386.8,333.9 L388.8,331.2 L390.8,328.7 L392.8,326.2 L394.8,323.8 L396.8,321.5 L398.8,319.4 L400.8,317.3 L402.8,315.3 L404.8,313.5 L406.8,311.8 L408.8,310.3 L410.8,308.8 L412.8,307.5 L414.8,306.4 L416.8,305.3 L418.8,304.4 L420.9,303.7 L422.9,303.1 L424.9,302.6 L426.9,302.3 L428.9,302.1 L430.9,302.0 L432.9,302.1 L434.9,302.3 L436.9,302.7 L438.9,303.1 L440.9,303.7 L442.9,304.4 L444.9,305.2 L446.9,306.2 L448.9,307.2 L450.9,308.3 L452.9,309.5 L454.9,310.8 L456.9,312.2 L458.9,313.7 L460.9,315.3 L462.9,316.9 L464.9,318.6 L466.9,320.3 L468.9,322.1 L470.9,324.0 L472.9,325.8 L474.9,327.7 L476.9,329.7 L478.9,331.6 L480.9,333.6 L482.9,335.6 L485.0,337.6 L487.0,339.5 L489.0,341.5 L491.0,343.4 L493.0,345.4 L495.0,347.3 L497.0,349.2 L499.0,351.0 L501.0,352.8 L503.0,354.6 L505.0,356.3 L507.0,358.0 L509.0,359.6 L511.0,361.2 L513.0,362.8 L515.0,364.3 L517.0,365.7 L519.0,367.1 L521.0,368.4 L523.0,369.7 L525.0,370.9 L527.0,372.0 L529.0,373.1 L531.0,374.1 L533.0,375.1 L535.0,376.0 L537.0,376.8 L539.0,377.6 L541.0,378.4 L543.0,379.1 L545.0,379.7 L547.0,380.3 L549.0,380.8 L551.1,381.3 L553.1,381.8 L555.1,382.2 L557.1,382.6 L559.1,382.9 L561.1,383.2 L563.1,383.5 L565.1,383.8 L567.1,384.0 L569.1,384.3 L571.1,384.5 L573.1,384.7 L575.1,384.8 L577.1,385.0 L579.1,385.2 L581.1,385.3 L583.1,385.5 L585.1,385.6 L587.1,385.7 L589.1,385.9 L591.1,386.0 L593.1,386.1 L595.1,386.3 L597.1,386.4 L599.1,386.6 L601.1,386.7 L603.1,386.9 L605.1,387.1 L607.1,387.3 L609.1,387.5 L611.1,387.7 L613.1,387.9 L615.1,388.2 L617.2,388.4 L619.2,388.7 L621.2,389.0 L623.2,389.3 L625.2,389.6 L627.2,390.0 L629.2,390.3 L631.2,390.7 L633.2,391.1 L635.2,391.5 L637.2,391.9 L639.2,392.4 L641.2,392.8 L643.2,393.3 L645.2,393.8 L647.2,394.3 L649.2,394.8 L651.2,395.4 L653.2,395.9 L655.2,396.5 L657.2,397.1 L659.2,397.7 L661.2,398.3 L663.2,398.9 L665.2,399.5 L667.2,400.2 L669.2,400.8 L671.2,401.4 L673.2,402.1 L675.2,402.7 L677.2,403.4 L679.2,404.0 L681.3,404.7 L683.3,405.3 L685.3,406.0 L687.3,406.6 L689.3,407.2 L691.3,407.8 L693.3,408.4 L695.3,409.0 L697.3,409.5 L699.3,410.1 L701.3,410.6 L703.3,411.1 L705.3,411.6 L707.3,412.0 L709.3,412.4 L711.3,412.8 L713.3,413.1" stroke="#ff0000" stroke-dasharray="2.6 2.0"/>
<path d="M386.8,372.6 L388.8,370.6 L390.8,368.8 L392.8,367.0 L394.8,365.3 L396.8,363.7 L398.8,362.2 L400.8,360.7 L402.8,359.4 L404.8,358.1 L406.8,356.9 L408.8,355.8 L410.8,354.9 L412.8,354.0 L414.8,353.2 L416.8,352.5 L418.8,351.9 L420.9,351.4 L422.9,351.0 L424.9,350.7 L426.9,350.5 L428.9,350.4 L430.9,350.4 L432.9,350.4 L434.9,350.6 L436.9,350.8 L438.9,351.2 L440.9,351.6 L442.9,352.1 L444.9,352.7 L446.9,353.3 L448.9,354.1 L450.9,354.9 L452.9,355.7 L454.9,356.6 L456.9,357.6 L458.9,358.6 L460.9,359.7 L462.9,360.9 L464.9,362.0 L466.9,363.3 L468.9,364.5 L470.9,365.8 L472.9,367.1 L474.9,368.4 L476.9,369.8 L478.9,371.1 L480.9,372.5 L482.9,373.9 L485.0,375.2 L487.0,376.6 L489.0,377.9 L491.0,379.3 L493.0,380.6 L495.0,381.9 L497.0,383.2 L499.0,384.5 L501.0,385.7 L503.0,387.0 L505.0,388.2 L507.0,389.3 L509.0,390.4 L511.0,391.5 L513.0,392.6 L515.0,393.6 L517.0,394.6 L519.0,395.5 L521.0,396.4 L523.0,397.2 L525.0,398.1 L527.0,398.8 L529.0,399.5 L531.0,400.2 L533.0,400.9 L535.0,401.5 L537.0,402.0 L539.0,402.6 L541.0,403.1 L543.0,403.5 L545.0,403.9 L547.0,404.3 L549.0,404.7 L551.1,405.0 L553.1,405.3 L555.1,405.5 L557.1,405.8 L559.1,406.0 L561.1,406.2 L563.1,406.4 L565.1,406.5 L567.1,406.7 L569.1,406.8 L571.1,406.9 L573.1,407.0 L575.1,407.1 L577.1,407.2 L579.1,407.3 L581.1,407.4 L583.1,407.5 L585.1,407.6 L587.1,407.7 L589.1,407.8 L591.1,407.9 L593.1,407.9 L595.1,408.0 L597.1,408.1 L599.1,408.2 L601.1,408.3 L603.1,408.5 L605.1,408.6 L607.1,408.7 L609.1,408.9 L611.1,409.0 L613.1,409.2 L615.1,409.4 L617.2,409.5 L619.2,409.7 L621.2,409.9 L623.2,410.2 L625.2,410.4 L627.2,410.6 L629.2,410.9 L631.2,411.2 L633.2,411.5 L635.2,411.8 L637.2,412.1 L639.2,412.4 L641.2,412.7 L643.2,413.1 L645.2,413.4 L647.2,413.8 L649.2,414.2 L651.2,414.5 L653.2,414.9 L655.2,415.3 L657.2,415.7 L659.2,416.2 L661.2,416.6 L663.2,417.0 L665.2,417.4 L667.2,417.9 L669.2,418.3 L671.2,418.8 L673.2,419.2 L675.2,419.6 L677.2,420.1 L679.2,420.5 L681.3,420.9 L683.3,421.4 L685.3,421.8 L687.3,422.2 L689.3,422.6 L691.3,423.0 L693.3,423.3 L695.3,423.7 L697.3,424.0 L699.3,424.4 L701.3,424.7 L703.3,424.9 L705.3,425.2 L707.3,425.4 L709.3,425.6 L711.3,425.8 L713.3,425.9" stroke="#ff0000"/>
<path d="M386.8,425.7 L388.8,423.3 L390.8,420.9 L392.8,418.5 L394.8,416.1 L396.8,413.6 L398.8,411.2 L400.8,408.8 L402.8,406.5 L404.8,404.1 L406.8,401.8 L408.8,399.6 L410.8,397.5 L412.8,395.4 L414.8,393.3 L416.8,391.4 L418.8,389.6 L420.9,387.8 L422.9,386.1 L424.9,384.6 L426.9,383.1 L428.9,381.8 L430.9,380.5 L432.9,379.4 L434.9,378.3 L436.9,377.4 L438.9,376.6 L440.9,375.8 L442.9,375.2 L444.9,374.7 L446.9,374.3 L448.9,374.0 L450.9,373.8 L452.9,373.7 L454.9,373.7 L456.9,373.8 L458.9,374.0 L460.9,374.2 L462.9,374.6 L464.9,375.0 L466.9,375.5 L468.9,376.0 L470.9,376.6 L472.9,377.3 L474.9,378.0 L476.9,378.8 L478.9,379.6 L480.9,380.5 L482.9,381.4 L485.0,382.3 L487.0,383.2 L489.0,384.1 L491.0,385.1 L493.0,386.0 L495.0,387.0 L497.0,387.9 L499.0,388.9 L501.0,389.8 L503.0,390.7 L505.0,391.6 L507.0,392.5 L509.0,393.4 L511.0,394.3 L513.0,395.1 L515.0,395.9 L517.0,396.7 L519.0,397.4 L521.0,398.1 L523.0,398.8 L525.0,399.4 L527.0,400.0 L529.0,400.6 L531.0,401.1 L533.0,401.6 L535.0,402.1 L537.0,402.5 L539.0,402.9 L541.0,403.3 L543.0,403.6 L545.0,403.9 L547.0,404.2 L549.0,404.4 L551.1,404.6 L553.1,404.8 L555.1,404.9 L557.1,405.1 L559.1,405.2 L561.1,405.3 L563.1,405.4 L565.1,405.4 L567.1,405.5 L569.1,405.5 L571.1,405.6 L573.1,405.6 L575.1,405.6 L577.1,405.6 L579.1,405.6 L581.1,405.6 L583.1,405.6 L585.1,405.6 L587.1,405.6 L589.1,405.6 L591.1,405.6 L593.1,405.6 L595.1,405.6 L597.1,405.6 L599.1,405.6 L601.1,405.7 L603.1,405.7 L605.1,405.7 L607.1,405.8 L609.1,405.8 L611.1,405.9 L613.1,406.0 L615.1,406.1 L617.2,406.2 L619.2,406.3 L621.2,406.4 L623.2,406.5 L625.2,406.7 L627.2,406.9 L629.2,407.0 L631.2,407.2 L633.2,407.4 L635.2,407.6 L637.2,407.9 L639.2,408.1 L641.2,408.4 L643.2,408.6 L645.2,408.9 L647.2,409.2 L649.2,409.5 L651.2,409.9 L653.2,410.2 L655.2,410.5 L657.2,410.9 L659.2,411.3 L661.2,411.6 L663.2,412.0 L665.2,412.4 L667.2,412.8 L669.2,413.2 L671.2,413.6 L673.2,414.1 L675.2,414.5 L677.2,414.9 L679.2,415.4 L681.3,415.8 L683.3,416.2 L685.3,416.7 L687.3,417.1 L689.3,417.5 L691.3,418.0 L693.3,418.4 L695.3,418.8 L697.3,419.2 L699.3,419.6 L701.3,420.0 L703.3,420.4 L705.3,420.8 L707.3,421.1 L709.3,421.4 L711.3,421.8 L713.3,422.1" stroke="#0000ff" stroke-dasharray="2.6 2.0"/>
<path d="M386.8,443.8 L388.8,442.1 L390.8,440.3 L392.8,438.5 L394.8,436.7 L396.8,434.9 L398.8,433.1 L400.8,431.3 L402.8,429.6 L404.8,427.9 L406.8,426.2 L408.8,424.6 L410.8,423.0 L412.8,421.5 L414.8,420.0 L416.8,418.6 L418.8,417.3 L420.9,416.0 L422.9,414.7 L424.9,413.6 L426.9,412.5 L428.9,411.4 L430.9,410.5 L432.9,409.6 L434.9,408.8 L436.9,408.1 L438.9,407.4 L440.9,406.8 L442.9,406.3 L444.9,405.9 L446.9,405.5 L448.9,405.2 L450.9,404.9 L452.9,404.8 L454.9,404.7 L456.9,404.6 L458.9,404.6 L460.9,404.7 L462.9,404.8 L464.9,405.0 L466.9,405.2 L468.9,405.5 L470.9,405.8 L472.9,406.2 L474.9,406.6 L476.9,407.0 L478.9,407.5 L480.9,408.0 L482.9,408.5 L485.0,409.0 L487.0,409.6 L489.0,410.1 L491.0,410.7 L493.0,411.2 L495.0,411.8 L497.0,412.4 L499.0,413.0 L501.0,413.5 L503.0,414.1 L505.0,414.6 L507.0,415.2 L509.0,415.7 L511.0,416.2 L513.0,416.7 L515.0,417.2 L517.0,417.7 L519.0,418.1 L521.0,418.6 L523.0,419.0 L525.0,419.4 L527.0,419.7 L529.0,420.1 L531.0,420.4 L533.0,420.7 L535.0,421.0 L537.0,421.3 L539.0,421.5 L541.0,421.7 L543.0,421.9 L545.0,422.1 L547.0,422.3 L549.0,422.4 L551.1,422.5 L553.1,422.6 L555.1,422.7 L557.1,422.8 L559.1,422.8 L561.1,422.9 L563.1,422.9 L565.1,422.9 L567.1,423.0 L569.1,423.0 L571.1,423.0 L573.1,423.0 L575.1,422.9 L577.1,422.9 L579.1,422.9 L581.1,422.9 L583.1,422.9 L585.1,422.8 L587.1,422.8 L589.1,422.8 L591.1,422.7 L593.1,422.7 L595.1,422.7 L597.1,422.7 L599.1,422.6 L601.1,422.6 L603.1,422.6 L605.1,422.6 L607.1,422.6 L609.1,422.6 L611.1,422.6 L613.1,422.6 L615.1,422.6 L617.2,422.7 L619.2,422.7 L621.2,422.7 L623.2,422.8 L625.2,422.8 L627.2,422.9 L629.2,423.0 L631.2,423.1 L633.2,423.2 L635.2,423.3 L637.2,423.4 L639.2,423.5 L641.2,423.6 L643.2,423.7 L645.2,423.9 L647.2,424.0 L649.2,424.2 L651.2,424.4 L653.2,424.5 L655.2,424.7 L657.2,424.9 L659.2,425.1 L661.2,425.3 L663.2,425.5 L665.2,425.8 L667.2,426.0 L669.2,426.2 L671.2,426.5 L673.2,426.7 L675.2,427.0 L677.2,427.3 L679.2,427.5 L681.3,427.8 L683.3,428.1 L685.3,428.3 L687.3,428.6 L689.3,428.9 L691.3,429.2 L693.3,429.5 L695.3,429.7 L697.3,430.0 L699.3,430.3 L701.3,430.6 L703.3,430.9 L705.3,431.1 L707.3,431.4 L709.3,431.7 L711.3,431.9 L713.3,432.2" stroke="#0000ff"/>
</g>
<path d="M391.60,445.1v-2.1M391.60,243.55v2.1M401.20,445.1v-2.1M401.20,243.55v2.1M410.80,445.1v-2.1M410.80,243.55v2.1M420.40,445.1v-2.1M420.40,243.55v2.1M430.00,445.1v-3.4M430.00,243.55v3.4M439.60,445.1v-2.1M439.60,243.55v2.1M449.20,445.1v-2.1M449.20,243.55v2.1M458.80,445.1v-2.1M458.80,243.55v2.1M468.40,445.1v-2.1M468.40,243.55v2.1M478.00,445.1v-3.4M478.00,243.55v3.4M487.60,445.1v-2.1M487.60,243.55v2.1M497.20,445.1v-2.1M497.20,243.55v2.1M506.80,445.1v-2.1M506.80,243.55v2.1M516.40,445.1v-2.1M516.40,243.55v2.1M526.00,445.1v-3.4M526.00,243.55v3.4M535.60,445.1v-2.1M535.60,243.55v2.1M545.20,445.1v-2.1M545.20,243.55v2.1M554.80,445.1v-2.1M554.80,243.55v2.1M564.40,445.1v-2.1M564.40,243.55v2.1M574.00,445.1v-3.4M574.00,243.55v3.4M583.60,445.1v-2.1M583.60,243.55v2.1M593.20,445.1v-2.1M593.20,243.55v2.1M602.80,445.1v-2.1M602.80,243.55v2.1M612.40,445.1v-2.1M612.40,243.55v2.1M622.00,445.1v-3.4M622.00,243.55v3.4M631.60,445.1v-2.1M631.60,243.55v2.1M641.20,445.1v-2.1M641.20,243.55v2.1M650.80,445.1v-2.1M650.80,243.55v2.1M660.40,445.1v-2.1M660.40,243.55v2.1M670.00,445.1v-3.4M670.00,243.55v3.4M679.60,445.1v-2.1M679.60,243.55v2.1M689.20,445.1v-2.1M689.20,243.55v2.1M698.80,445.1v-2.1M698.80,243.55v2.1M708.40,445.1v-2.1M708.40,243.55v2.1M386.8,247.91h2.1M713.3,247.91h-2.1M386.8,258.93h2.1M713.3,258.93h-2.1M386.8,269.95h3.4M713.3,269.95h-3.4M386.8,280.97h2.1M713.3,280.97h-2.1M386.8,291.99h2.1M713.3,291.99h-2.1M386.8,303.00h2.1M713.3,303.00h-2.1M386.8,314.02h3.4M713.3,314.02h-3.4M386.8,325.04h2.1M713.3,325.04h-2.1M386.8,336.06h2.1M713.3,336.06h-2.1M386.8,347.07h2.1M713.3,347.07h-2.1M386.8,358.09h3.4M713.3,358.09h-3.4M386.8,369.11h2.1M713.3,369.11h-2.1M386.8,380.12h2.1M713.3,380.12h-2.1M386.8,391.14h2.1M713.3,391.14h-2.1M386.8,402.16h3.4M713.3,402.16h-3.4M386.8,413.18h2.1M713.3,413.18h-2.1M386.8,424.19h2.1M713.3,424.19h-2.1M386.8,435.21h2.1M713.3,435.21h-2.1" stroke="#000" stroke-width="1.1" fill="none"/>
<rect x="386.8" y="243.55" width="326.5" height="201.55" fill="none" stroke="#000" stroke-width="1.3"/>
<text x="384.4" y="274.4" font-size="13.3" text-anchor="end">0.8</text>
<text x="384.4" y="318.5" font-size="13.3" text-anchor="end">0.6</text>
<text x="384.4" y="362.6" font-size="13.3" text-anchor="end">0.4</text>
<text x="384.4" y="406.7" font-size="13.3" text-anchor="end">0.2</text>
<text x="430.0" y="458.6" font-size="13.3" text-anchor="middle">2.1</text>
<text x="478.0" y="458.6" font-size="13.3" text-anchor="middle">2.2</text>
<text x="526.0" y="458.6" font-size="13.3" text-anchor="middle">2.3</text>
<text x="574.0" y="458.6" font-size="13.3" text-anchor="middle">2.4</text>
<text x="622.0" y="458.6" font-size="13.3" text-anchor="middle">2.5</text>
<text x="670.0" y="458.6" font-size="13.3" text-anchor="middle">2.6</text>
<text x="551.5" y="478.9" font-size="13.7" text-anchor="middle">W (GeV)</text>
<text x="708.8" y="259.5" font-size="12.0" text-anchor="end"><tspan class="i">Q</tspan><tspan font-size="8" dy="-4.6">2</tspan><tspan dy="4.6">=</tspan>15 GeV<tspan font-size="8" dy="-4.6">2</tspan></text>
<path d="M578.8,272.9h11.8" stroke="#0000ff" stroke-width="1.35" fill="none"/>
<text x="597.0" y="276.7" font-size="12.0">cos<tspan class="i">θ</tspan>=−0.6, s=40 GeV<tspan font-size="8" dy="-4.6">2</tspan></text>
<path d="M578.8,287.7h11.8" stroke="#0000ff" stroke-width="1.35" stroke-dasharray="2.6 2.0" fill="none"/>
<text x="597.0" y="291.5" font-size="12.0">cos<tspan class="i">θ</tspan>=−0.6, s=30 GeV<tspan font-size="8" dy="-4.6">2</tspan></text>
<path d="M578.8,302.6h11.8" stroke="#ff0000" stroke-width="1.35" fill="none"/>
<text x="597.0" y="306.4" font-size="12.0">cos<tspan class="i">θ</tspan>=−0.2, s=40 GeV<tspan font-size="8" dy="-4.6">2</tspan></text>
<path d="M578.8,317.4h11.8" stroke="#ff0000" stroke-width="1.35" stroke-dasharray="2.6 2.0" fill="none"/>
<text x="597.0" y="321.2" font-size="12.0">cos<tspan class="i">θ</tspan>=−0.2, s=30 GeV<tspan font-size="8" dy="-4.6">2</tspan></text>
</g>
<g transform="translate(12.3,187.4) rotate(-90)"><text id="yl1" x="0" y="0" font-size="13.7">d<tspan class="i" font-size="12.2">σ</tspan><tspan font-size="9.6" dy="1.8">FB</tspan><tspan dy="-1.8">/dW</tspan><tspan font-size="9.2" dy="-5.2">2</tspan><tspan dy="5.2">dQ</tspan><tspan font-size="9.2" dy="-5.2">2</tspan><tspan dy="5.2">dcos</tspan><tspan class="i">θ</tspan> fb/(GeV)<tspan font-size="9.2" dy="-5.2">4</tspan></text><path d="M8.5,-8.0h4.6" stroke="#000" stroke-width="0.9"/></g>
<g transform="translate(12.3,430.0) rotate(-90)"><text id="yl3" x="0" y="0" font-size="13.7">d<tspan class="i" font-size="12.2">σ</tspan><tspan font-size="9.6" dy="1.8">FB</tspan><tspan dy="-1.8">/dW</tspan><tspan font-size="9.2" dy="-5.2">2</tspan><tspan dy="5.2">dQ</tspan><tspan font-size="9.2" dy="-5.2">2</tspan><tspan dy="5.2">dcos</tspan><tspan class="i">θ</tspan> fb/(GeV)<tspan font-size="9.2" dy="-5.2">4</tspan></text><path d="M8.5,-8.0h4.6" stroke="#000" stroke-width="0.9"/></g>
</svg></body></html>
